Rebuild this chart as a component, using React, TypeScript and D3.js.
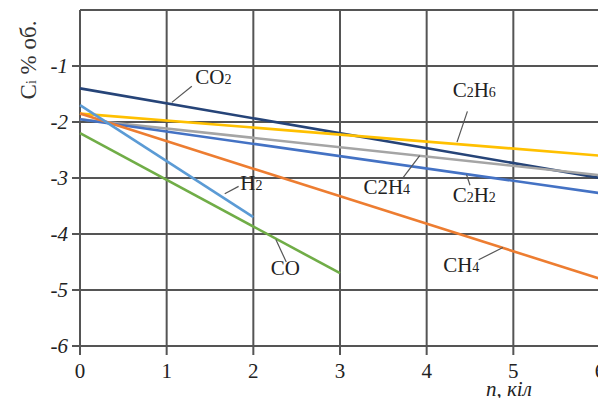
import { useEffect, useRef } from "react";
import * as d3 from "d3";

const W = 598, H = 398;
const SERIF = "'Liberation Serif', 'Times New Roman', serif";

// x ticks (n) and y ticks (Ci, % об.)
const xTicks = [0, 1, 2, 3, 4, 5, 6];
const yTicks = [-1, -2, -3, -4, -5, -6];

// each series is a straight line from x=0 to xEnd
const seriesNames = ["CO2", "C2H4", "C2H2", "C2H6", "CH4", "H2", "CO"];
const seriesColors = ["#264478", "#a5a5a5", "#4472c4", "#ffc000", "#ed7d31", "#5b9bd5", "#70ad47"];
const seriesXEnd = [6, 6, 6, 6, 6, 2, 3];
const seriesYStart = [-1.4, -1.95, -1.95, -1.85, -1.85, -1.7, -2.2];
const seriesYEnd = [-3.0, -2.95, -3.27, -2.6, -4.8, -3.7, -4.7];

// annotation labels: [text, isSub] pieces, text position and leader line (data units)
const labelParts = [
  [["CO", false], ["2", true]],
  [["C", false], ["2", true], ["H", false], ["6", true]],
  [["H", false], ["2", true]],
  [["C2H", false], ["4", true]],
  [["C", false], ["2", true], ["H", false], ["2", true]],
  [["CO", false]],
  [["CH", false], ["4", true]],
];
const labelX = [1.33, 4.3, 1.85, 3.27, 4.3, 2.2, 4.19];
const labelY = [-1.33, -1.55, -3.22, -3.28, -3.43, -4.74, -4.67];
const leaderFrom = [[1.29, -1.36], [4.47, -1.81], [1.67, -3.28], [3.73, -2.99], [4.5, -3.13], [2.38, -4.5], [4.6, -4.46]];
const leaderTo = [[1.06, -1.65], [4.35, -2.36], [1.83, -3.15], [3.92, -2.6], [4.46, -2.94], [2.26, -4.1], [4.88, -4.24]];

export default function App() {
  const svgRef = useRef(null);

  useEffect(() => {
    document.body.style.margin = "0";
    const svg = d3.select(svgRef.current);
    svg.selectAll("*").remove();

    const x = d3.scaleLinear().domain([0, 6]).range([80, 600]);
    const y = d3.scaleLinear().domain([0, -6]).range([10, 346]);

    const grid = svg.append("g").attr("stroke", "#555").attr("stroke-width", 2);
    // horizontal grid incl. top border, with left tick stubs
    [0, ...yTicks].forEach(v => {
      grid.append("line")
        .attr("x1", v === 0 ? x(0) : 72).attr("x2", W)
        .attr("y1", y(v)).attr("y2", y(v));
    });
    xTicks.forEach(v => {
      grid.append("line")
        .attr("x1", x(v)).attr("x2", x(v))
        .attr("y1", y(0)).attr("y2", 355);
    });

    // y tick labels (italic)
    svg.append("g").selectAll("text").data(yTicks).enter().append("text")
      .attr("x", 68).attr("y", d => y(d) + 7)
      .attr("text-anchor", "end").attr("font-family", SERIF).attr("font-style", "italic")
      .attr("font-size", 21).attr("fill", "#222")
      .text(d => String(d));

    // x tick labels
    svg.append("g").selectAll("text").data(xTicks).enter().append("text")
      .attr("x", d => x(d)).attr("y", 378)
      .attr("text-anchor", "middle").attr("font-family", SERIF)
      .attr("font-size", 21).attr("fill", "#222")
      .text(d => String(d));

    // x axis title, cut by the right edge like the source
    svg.append("text")
      .attr("x", 486).attr("y", 396)
      .attr("font-family", SERIF).attr("font-style", "italic")
      .attr("font-size", 21).attr("fill", "#222")
      .text("n, кіл");

    // y axis title
    const yt = svg.append("text")
      .attr("transform", "translate(36,60) rotate(-90)")
      .attr("text-anchor", "middle").attr("font-family", SERIF)
      .attr("font-size", 23).attr("fill", "#333");
    yt.append("tspan").text("C");
    yt.append("tspan").attr("font-size", 14).text("i");
    yt.append("tspan").text(" % об.");

    // series lines
    const line = d3.line().x(d => x(d[0])).y(d => y(d[1]));
    seriesNames.forEach((name, i) => {
      svg.append("path")
        .datum([[0, seriesYStart[i]], [seriesXEnd[i], seriesYEnd[i]]])
        .attr("d", line)
        .attr("fill", "none")
        .attr("stroke", seriesColors[i])
        .attr("stroke-width", 2.6)
        .attr("data-name", name);
    });

    // leaders + labels
    labelParts.forEach((parts, i) => {
      svg.append("line")
        .attr("x1", x(leaderFrom[i][0])).attr("y1", y(leaderFrom[i][1]))
        .attr("x2", x(leaderTo[i][0])).attr("y2", y(leaderTo[i][1]))
        .attr("stroke", "#555").attr("stroke-width", 1.2);
      const t = svg.append("text")
        .attr("x", x(labelX[i])).attr("y", y(labelY[i]))
        .attr("font-family", SERIF).attr("font-size", 21).attr("fill", "#222");
      parts.forEach(([s, sub]) => {
        t.append("tspan").attr("font-size", sub ? 14 : 21).text(s);
      });
    });
  }, []);

  return (
    <svg ref={svgRef} width={W} height={H} style={{ display: "block", background: "#fff" }} />
  );
}
